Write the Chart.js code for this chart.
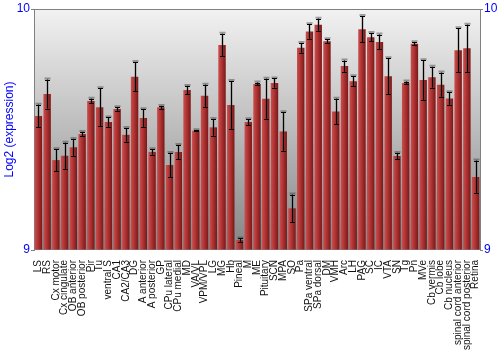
<!DOCTYPE html>
<html>
<head>
<meta charset="utf-8">
<script src="https://cdn.jsdelivr.net/npm/chart.js@4/dist/chart.umd.min.js"></script>
<style>
  body { margin: 0; background: #fff; }
  canvas { display: block; }
</style>
</head>
<body>
<canvas id="exprChart" width="500" height="350"></canvas>
<script>
// brain regions on the x axis
const categories = [
  "LS", "RS", "Cx motor", "Cx cingulate", "OB anterior", "OB posterior", "Pir", "Tu", "ventral S", "CA1",
  "CA2/CA3", "DG", "A anterior", "A posterior", "GP", "CPu lateral", "CPu medial", "MD", "VA/VL", "VPM/VPL",
  "LG", "MG", "Hb", "Pineal", "M", "ME", "Pituitary", "SCN", "MPA", "SO",
  "Pa", "SPa ventral", "SPa dorsal", "DM", "VMH", "Arc", "LH", "PAG", "SC", "IC",
  "VTA", "SN", "Tg", "Pn", "MVe", "Cb vermis", "Cb lobe", "Cb nucleus", "spinal cord anterior", "spinal cord posterior",
  "Retina"
];

// mean log2 expression
const means = [
  9.556, 9.647, 9.373, 9.391, 9.426, 9.481, 9.618, 9.592, 9.531, 9.585,
  9.478, 9.719, 9.548, 9.407, 9.592, 9.353, 9.407, 9.664, 9.495, 9.640,
  9.509, 9.851, 9.602, 9.041, 9.531, 9.689, 9.628, 9.693, 9.492, 9.173,
  9.839, 9.907, 9.935, 9.866, 9.575, 9.763, 9.700, 9.916, 9.883, 9.863,
  9.721, 9.390, 9.693, 9.856, 9.705, 9.717, 9.686, 9.629, 9.829, 9.837,
  9.303
];

// +/- error per region
const errors = [
  0.047, 0.060, 0.045, 0.054, 0.035, 0.009, 0.010, 0.079, 0.019, 0.007,
  0.028, 0.061, 0.036, 0.011, 0.006, 0.050, 0.029, 0.017, 0.002, 0.046,
  0.035, 0.046, 0.099, 0.007, 0.012, 0.006, 0.083, 0.019, 0.080, 0.057,
  0.020, 0.030, 0.025, 0.009, 0.053, 0.023, 0.021, 0.055, 0.017, 0.031,
  0.075, 0.013, 0.006, 0.006, 0.082, 0.043, 0.050, 0.026, 0.091, 0.098,
  0.068
];

const yTicks = [9, 10];
const axisBlue = "#0000ff";

// gray backdrop + top frame line
const backdrop = {
  id: "backdrop",
  beforeDraw(chart) {
    const { ctx, chartArea: a } = chart;
    const g = ctx.createLinearGradient(0, a.top, 0, a.bottom);
    g.addColorStop(0, "#f2f2f2");
    g.addColorStop(1, "#858585");
    ctx.save();
    ctx.fillStyle = g;
    ctx.fillRect(a.left, a.top, a.right - a.left, a.bottom - a.top);
    ctx.strokeStyle = "#808080";
    ctx.lineWidth = 1;
    ctx.beginPath();
    ctx.moveTo(a.left, a.top + 0.5);
    ctx.lineTo(a.right, a.top + 0.5);
    ctx.stroke();
    ctx.restore();
  }
};

// error bars drawn over the bars
const errorBars = {
  id: "errorBars",
  afterDatasetsDraw(chart) {
    const { ctx } = chart;
    const y = chart.scales.y;
    const meta = chart.getDatasetMeta(0);
    ctx.save();
    meta.data.forEach((bar, i) => {
      const x = Math.round(bar.x) + 0.5;
      const top = y.getPixelForValue(means[i] + errors[i]);
      const bot = y.getPixelForValue(means[i] - errors[i]);
      // soft shadow
      ctx.strokeStyle = "rgba(60,60,60,0.45)";
      ctx.lineWidth = 2;
      ctx.beginPath();
      ctx.moveTo(x, top - 1);
      ctx.lineTo(x, bot);
      ctx.moveTo(x - 3, top - 1);
      ctx.lineTo(x + 3, top - 1);
      ctx.stroke();
      ctx.strokeStyle = "#000";
      ctx.lineWidth = 1;
      ctx.beginPath();
      ctx.moveTo(x, top);
      ctx.lineTo(x, bot);
      ctx.moveTo(x - 2.5, Math.round(top) + 0.5);
      ctx.lineTo(x + 2.5, Math.round(top) + 0.5);
      ctx.moveTo(x - 2.5, Math.round(bot) + 0.5);
      ctx.lineTo(x + 2.5, Math.round(bot) + 0.5);
      ctx.stroke();
    });
    ctx.restore();
  }
};

function barFill(context) {
  const chart = context.chart;
  const xs = chart.scales.x;
  if (!chart.chartArea || !xs || context.dataIndex === undefined) return "#a83030";
  const cx = xs.getPixelForValue(context.dataIndex);
  const half = (xs.width / categories.length) * 0.85 / 2;
  const g = chart.ctx.createLinearGradient(cx - half, 0, cx + half, 0);
  g.addColorStop(0, "#c85050");
  g.addColorStop(0.35, "#b83838");
  g.addColorStop(1, "#7a1818");
  return g;
}

new Chart(document.getElementById("exprChart"), {
  type: "bar",
  data: {
    labels: categories,
    datasets: [{
      data: means,
      base: 9,
      backgroundColor: barFill,
      borderWidth: 0,
      barPercentage: 0.85,
      categoryPercentage: 1.0
    }]
  },
  options: {
    responsive: false,
    animation: false,
    layout: { padding: { top: 9, left: 0, right: 0, bottom: 0 } },
    plugins: {
      legend: { display: false },
      tooltip: { enabled: false }
    },
    scales: {
      x: {
        grid: { display: false },
        border: { display: false },
        ticks: {
          autoSkip: false,
          minRotation: 90,
          maxRotation: 90,
          padding: 2,
          color: "#111",
          font: { family: "Liberation Sans, Arial, sans-serif", size: 10 }
        },
        afterFit(scale) { scale.height = 100; }
      },
      y: {
        position: "left",
        min: 9,
        max: 10,
        afterBuildTicks(scale) { scale.ticks = yTicks.map(v => ({ value: v })); },
        grid: { drawOnChartArea: false, drawTicks: true, tickLength: 3, color: "#808080" },
        border: { display: true, color: "#808080" },
        ticks: {
          padding: 1,
          color: axisBlue,
          font: { family: "Liberation Sans, Arial, sans-serif", size: 12 }
        },
        title: {
          display: true,
          text: "Log2 (expression)",
          color: axisBlue,
          padding: { top: 2, bottom: 0 },
          font: { family: "Liberation Sans, Arial, sans-serif", size: 12 }
        },
        afterFit(scale) { scale.width = 34; }
      },
      y2: {
        position: "right",
        min: 9,
        max: 10,
        afterBuildTicks(scale) { scale.ticks = yTicks.map(v => ({ value: v })); },
        grid: { drawOnChartArea: false, drawTicks: true, tickLength: 3, color: "#808080" },
        border: { display: true, color: "#808080" },
        ticks: {
          padding: 1,
          color: axisBlue,
          font: { family: "Liberation Sans, Arial, sans-serif", size: 12 }
        },
        afterFit(scale) { scale.width = 20; }
      }
    }
  },
  plugins: [backdrop, errorBars]
});
</script>
</body>
</html>
